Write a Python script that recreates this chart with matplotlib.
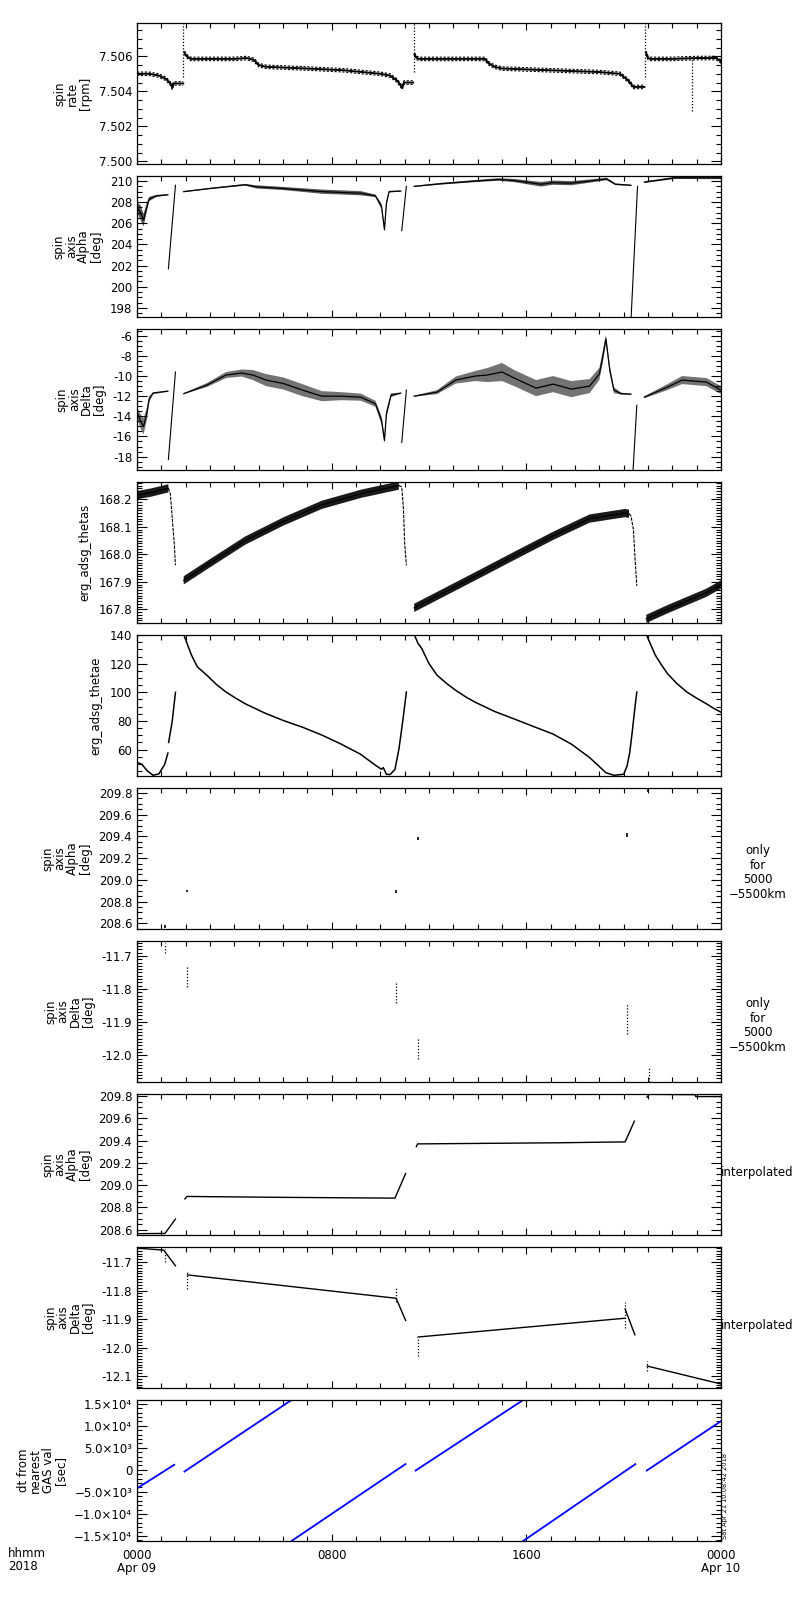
import numpy as np
import matplotlib
matplotlib.use('Agg')
import matplotlib.pyplot as plt
from matplotlib.ticker import MultipleLocator, FixedLocator, FormatStrFormatter

# hours since 2018-04-09 00:00 UT
rate_t = [[0.0, 0.5, 0.9, 1.2, 1.4, 1.45, 1.5, 1.9],
          [1.95, 2.05, 2.2, 3.0, 4.0, 4.5, 4.8, 5.0, 5.3, 7.0, 8.5, 10.0, 10.4, 10.7, 10.9, 10.97, 11.35],
          [11.4, 11.5, 11.6, 13.0, 14.3, 14.45, 14.7, 15.0, 17.0, 19.0, 19.85, 20.2, 20.4, 20.85],
          [20.92, 21.0, 21.1, 22.0, 23.0, 23.8, 24.0]]
rate_v = [[7.5050, 7.5050, 7.5049, 7.5047, 7.5044, 7.5042, 7.50445, 7.50445],
          [7.5062, 7.5060, 7.50585, 7.50585, 7.50585, 7.5059, 7.5058, 7.5055, 7.5054, 7.5053, 7.5052,
           7.5050, 7.5049, 7.5046, 7.5042, 7.5045, 7.5045],
          [7.5061, 7.5059, 7.50585, 7.50585, 7.50585, 7.5056, 7.5054, 7.5053, 7.5052, 7.5051, 7.5050,
           7.5046, 7.50425, 7.50425],
          [7.5062, 7.5059, 7.50585, 7.50585, 7.5059, 7.5059, 7.5057]]
rate_spike_t = [1.91, 11.37, 20.88, 22.8]
rate_spike_lo = [7.5048, 7.5051, 7.5048, 7.5029]
rate_spike_hi = [7.5079, 7.5079, 7.5079, 7.5059]

alpha_t = [[0.0, 0.15, 0.27, 0.4, 0.5, 0.8, 1.27],
           [1.92, 3.0, 4.45, 4.9, 6.0, 7.6, 9.2, 9.8, 10.05, 10.17, 10.25, 10.36, 10.84],
           [11.39, 12.5, 13.9, 14.86, 15.5, 16.6, 17.1, 17.85, 18.6, 19.3, 19.66, 20.3],
           [20.85, 22.1, 24.0]]
alpha_v = [[207.5, 207.0, 206.3, 207.5, 208.3, 208.6, 208.7],
           [209.0, 209.3, 209.65, 209.45, 209.3, 209.0, 208.85, 208.6, 207.6, 205.4, 207.9, 209.0, 209.05],
           [209.5, 209.75, 210.0, 210.15, 210.05, 209.7, 209.85, 209.8, 210.0, 210.2, 209.7, 209.6],
           [209.9, 210.3, 210.3]]
alpha_s = [[0.5, 0.7, 0.6, 0.4, 0.2, 0.1, 0.05],
           [0.05, 0.06, 0.08, 0.15, 0.15, 0.2, 0.2, 0.12, 0.25, 0.15, 0.25, 0.08, 0.05],
           [0.05, 0.08, 0.1, 0.12, 0.15, 0.22, 0.2, 0.2, 0.15, 0.12, 0.08, 0.05],
           [0.08, 0.1, 0.12]]
alpha_ramp_t = [[1.29, 1.58], [10.88, 11.07], [20.3, 20.57]]
alpha_ramp_v = [[201.7, 209.6], [205.3, 209.5], [196.8, 209.5]]

delta_t = [[0.0, 0.15, 0.27, 0.4, 0.5, 0.66, 1.27],
           [1.92, 2.87, 3.66, 4.3, 4.76, 5.3, 6.03, 6.8, 7.6, 8.4, 9.2, 9.8, 10.05, 10.17, 10.25, 10.44, 10.84],
           [11.39, 12.33, 13.1, 13.9, 14.4, 15.0, 15.5, 16.4, 17.1, 17.85, 18.6, 19.0, 19.15, 19.27, 19.43,
            19.6, 19.9, 20.3],
           [20.85, 21.8, 22.4, 23.4, 24.0]]
delta_v = [[-13.6, -14.5, -15.0, -13.8, -12.3, -11.7, -11.5],
           [-11.75, -10.9, -9.9, -9.7, -9.9, -10.4, -10.75, -11.4, -12.0, -12.0, -12.1, -12.75, -14.4, -16.4,
            -13.75, -11.9, -11.7],
           [-12.0, -11.6, -10.4, -10.0, -9.9, -9.6, -10.2, -11.2, -10.8, -11.3, -11.0, -9.8, -8.0, -6.3, -9.4,
            -11.4, -11.75, -11.8],
           [-12.1, -11.1, -10.4, -10.6, -11.4]]
delta_s = [[0.5, 0.7, 0.8, 0.6, 0.3, 0.1, 0.05],
           [0.05, 0.2, 0.3, 0.35, 0.5, 0.6, 0.6, 0.6, 0.5, 0.4, 0.35, 0.3, 0.4, 0.3, 0.4, 0.2, 0.05],
           [0.05, 0.2, 0.35, 0.5, 0.7, 0.9, 0.8, 0.8, 0.8, 0.8, 0.7, 0.6, 0.6, 0.4, 0.4, 0.3, 0.1, 0.05],
           [0.1, 0.3, 0.4, 0.4, 0.4]]
delta_ramp_t = [[1.29, 1.58], [10.88, 11.07], [20.38, 20.54]]
delta_ramp_v = [[-18.3, -9.6], [-16.6, -11.4], [-19.6, -12.9]]

thetas_t = [[0.0, 0.6, 1.29],
            [1.92, 2.87, 4.45, 6.03, 7.6, 9.2, 10.76],
            [11.39, 12.33, 13.9, 15.5, 17.1, 18.6, 20.06, 20.22],
            [20.93, 21.8, 23.4, 24.0]]
thetas_v = [[168.215, 168.225, 168.24],
            [167.905, 167.96, 168.05, 168.12, 168.18, 168.22, 168.25],
            [167.805, 167.848, 167.92, 167.994, 168.067, 168.13, 168.15, 168.147],
            [167.765, 167.80, 167.86, 167.89]]
thetas_drop_t = [[1.29, 1.37, 1.45, 1.53, 1.58],
                 [10.76, 10.88, 10.95, 11.0, 11.07],
                 [20.22, 20.3, 20.4, 20.47, 20.54]]
thetas_drop_v = [[168.24, 168.22, 168.13, 168.04, 167.96],
                 [168.25, 168.245, 168.165, 168.04, 167.96],
                 [168.147, 168.14, 168.09, 167.98, 167.885]]

thetae_t = [[0.0, 0.19, 0.43, 0.66, 0.9, 1.14, 1.27],
            [1.3, 1.45, 1.58],
            [1.92, 2.08, 2.24, 2.48, 2.87, 3.27, 3.66, 4.05, 4.45, 5.24, 6.03, 6.82, 7.6, 8.39, 9.18, 9.8,
             10.05, 10.12, 10.25, 10.4, 10.6, 10.76, 10.84, 10.95, 11.07],
            [11.39, 11.55, 11.7, 12.0, 12.33, 12.73, 13.1, 13.52, 13.9, 14.7, 15.5, 16.28, 17.1, 17.85, 18.6,
             19.27, 19.6, 20.0, 20.14, 20.25, 20.35, 20.44, 20.54],
            [20.93, 21.09, 21.3, 21.56, 21.8, 22.19, 22.6, 22.99, 23.4, 23.69, 24.0]]
thetae_v = [[51.0, 49.8, 45.0, 42.0, 43.0, 49.7, 57.5],
            [65.0, 80.0, 100.0],
            [140.5, 133.1, 126.0, 117.8, 112.0, 105.4, 100.2, 96.0, 92.0, 85.6, 80.2, 75.5, 70.1, 63.8, 56.8,
             49.0, 46.2, 47.4, 42.7, 42.5, 46.0, 60.0, 69.6, 83.7, 100.2],
            [140.5, 134.2, 130.7, 120.1, 112.0, 106.1, 101.4, 96.7, 93.1, 86.6, 81.4, 76.2, 70.8, 63.8, 54.4,
             43.8, 42.0, 42.7, 48.5, 58.0, 72.0, 86.0, 100.2],
            [140.5, 134.2, 126.0, 119.0, 113.1, 106.1, 100.2, 96.0, 92.0, 88.9, 86.1]]

# 5000-5500 km only
alpha_sel_t = [1.17, 2.05, 10.65, 11.53, 20.14, 21.0]
alpha_sel_lo = [208.555, 208.885, 208.88, 209.37, 209.39, 209.81]
alpha_sel_hi = [208.58, 208.91, 208.91, 209.39, 209.43, 209.845]
delta_sel_t = [1.17, 2.05, 10.65, 11.53, 20.14, 21.04]
delta_sel_lo = [-11.69, -11.795, -11.842, -12.013, -11.937, -12.081]
delta_sel_hi = [-11.66, -11.73, -11.777, -11.951, -11.844, -12.037]

# interpolated
alpha_int_t = [[0.0, 1.15, 1.58],
               [1.97, 2.05, 6.0, 10.6, 11.04],
               [11.48, 11.53, 17.3, 20.06, 20.44],
               [20.96, 21.05, 22.95, 22.96, 24.0]]
alpha_int_v = [[208.564, 208.566, 208.695],
               [208.876, 208.898, 208.89, 208.883, 209.104],
               [209.345, 209.37, 209.38, 209.388, 209.574],
               [209.79, 209.815, 209.812, 209.795, 209.795]]
delta_int_t = [[0.0, 1.1, 1.58],
               [2.08, 10.65, 11.04],
               [11.55, 20.06],
               [20.06, 20.46],
               [20.97, 24.0]]
delta_int_v = [[-11.651, -11.658, -11.713],
               [-11.745, -11.827, -11.905],
               [-11.963, -11.897],
               [-11.865, -11.955],
               [-12.065, -12.128]]
delta_int_dot_t = [1.17, 2.05, 10.65, 11.53, 20.06, 20.97]
delta_int_dot_lo = [-11.70, -11.796, -11.84, -12.029, -11.93, -12.081]
delta_int_dot_hi = [-11.655, -11.731, -11.79, -11.967, -11.84, -12.046]

dt_t = [[0.0, 1.53], [1.95, 6.35], [6.35, 11.03], [11.45, 15.87], [15.87, 20.48], [20.95, 24.0]]
dt_v = [[-4200, 1150], [-380, 15850], [-16140, 1300], [-150, 15850], [-16140, 1300], [-150, 11050]]


def join(segs):
    out = []
    for s in segs:
        out.extend(s)
        out.append(np.nan)
    return np.array(out[:-1], dtype=float)


plt.rcParams.update({
    'font.family': 'DejaVu Sans',
    'font.size': 8.5,
    'axes.linewidth': 0.9,
    'xtick.direction': 'in', 'ytick.direction': 'in',
    'xtick.top': True, 'ytick.right': True,
    'xtick.major.size': 5, 'xtick.minor.size': 3.5,
    'ytick.major.size': 7, 'ytick.minor.size': 3.8,
    'xtick.major.width': 0.8, 'xtick.minor.width': 0.8,
    'ytick.major.width': 0.8, 'ytick.minor.width': 0.8,
    'ytick.major.pad': 3.5, 'xtick.major.pad': 6,
})

fig = plt.figure(figsize=(8, 16), dpi=100)


def make_panel(i, ylim, major, minor, fmt, label):
    top = 23 + 153 * i
    ax = fig.add_axes([137 / 800, 1 - (top + 141) / 1600, 584 / 800, 141 / 1600])
    ax.set_xlim(0, 24)
    ax.xaxis.set_major_locator(MultipleLocator(8))
    ax.xaxis.set_minor_locator(MultipleLocator(1))
    ax.tick_params(axis='x', which='both', labelbottom=False)
    ax.set_ylim(*ylim)
    ax.yaxis.set_major_locator(MultipleLocator(major))
    ax.yaxis.set_minor_locator(MultipleLocator(minor))
    if fmt:
        ax.yaxis.set_major_formatter(FormatStrFormatter(fmt))
    ax.set_ylabel(label, linespacing=0.95, labelpad=5)
    return ax


def band(ax, t, v, s, lw=0.9, shade=0.35):
    t, v, s = join(t), join(v), join(s)
    ax.fill_between(t, v - s, v + s, color=str(shade), lw=0)
    ax.plot(t, v, color='k', lw=lw)


def right_note(ax, text, lines):
    if lines == 1:
        ax.text(1.0, 0.5 - 8 / 141, text, transform=ax.transAxes, ha='left', va='center')
    else:
        ax.text((758 - 137) / 584, 0.5 + 14 / 141, text, transform=ax.transAxes,
                ha='center', va='top', linespacing=1.15, multialignment='center')


# 1 spin rate
ax = make_panel(0, (7.49985, 7.5079), 0.002, 0.0005, '%.3f', 'spin\nrate\n[rpm]')
rt, rv = join(rate_t), join(rate_v)
ax.plot(rt, rv, color='k', lw=1.4)
ax.plot(rt, rv + 0.0001, color='k', lw=0.8, ls=(0, (2, 1.5)))
ax.plot(rt, rv - 0.0001, color='k', lw=0.8, ls=(0, (2, 1.5)))
ax.vlines(rate_spike_t, rate_spike_lo, rate_spike_hi, colors='k', lw=0.9, linestyles=(0, (1, 1.5)))

# 2 spin axis alpha
ax = make_panel(1, (197.14, 210.48), 2, 0.5, '%d', 'spin\naxis\nAlpha\n[deg]')
band(ax, alpha_t, alpha_v, alpha_s)
ax.plot(join(alpha_ramp_t), join(alpha_ramp_v), color='k', lw=0.8)

# 3 spin axis delta
ax = make_panel(2, (-19.33, -5.33), 2, 0.5, '%d', 'spin\naxis\nDelta\n[deg]')
band(ax, delta_t, delta_v, delta_s, shade=0.45)
ax.plot(join(delta_ramp_t), join(delta_ramp_v), color='k', lw=0.8)

# 4 thetas
ax = make_panel(3, (167.75, 168.263), 0.1, 0.01, '%.1f', 'erg_adsg_thetas')
th_s = [[0.015] * len(seg) for seg in thetas_t]
band(ax, thetas_t, thetas_v, th_s, shade=0.1)
ax.plot(join(thetas_drop_t), join(thetas_drop_v), color='k', lw=0.8, ls=(0, (3, 1)))

# 5 thetae
ax = make_panel(4, (41.5, 140.1), 20, 5, '%d', 'erg_adsg_thetae')
ax.plot(join(thetae_t), join(thetae_v), color='k', lw=1.1)

# 6 alpha 5000-5500 km
ax = make_panel(5, (208.547, 209.846), 0.2, 0.05, '%.1f', 'spin\naxis\nAlpha\n[deg]')
ax.vlines(alpha_sel_t, alpha_sel_lo, alpha_sel_hi, colors='k', lw=1.2)
right_note(ax, 'only\nfor\n5000\n\u22125500km', 4)

# 7 delta 5000-5500 km
ax = make_panel(6, (-12.081, -11.655), 0.1, 0.01, '%.1f', 'spin\naxis\nDelta\n[deg]')
ax.vlines(delta_sel_t, delta_sel_lo, delta_sel_hi, colors='k', lw=0.9, linestyles=(0, (1, 1.5)))
right_note(ax, 'only\nfor\n5000\n\u22125500km', 4)

# 8 alpha interpolated
ax = make_panel(7, (208.552, 209.818), 0.2, 0.05, '%.1f', 'spin\naxis\nAlpha\n[deg]')
ax.plot(join(alpha_int_t), join(alpha_int_v), color='k', lw=1.0)
right_note(ax, 'interpolated', 1)

# 9 delta interpolated
ax = make_panel(8, (-12.142, -11.647), 0.1, 0.01, '%.1f', 'spin\naxis\nDelta\n[deg]')
ax.plot(join(delta_int_t), join(delta_int_v), color='k', lw=1.0)
ax.vlines(delta_int_dot_t, delta_int_dot_lo, delta_int_dot_hi, colors='k', lw=0.9,
          linestyles=(0, (1, 1.5)))
right_note(ax, 'interpolated', 1)

# 10 dt from nearest GAS value
ax = make_panel(9, (-16140, 15850), 5000, 1000, None, 'dt from\nnearest\nGAS val\n[sec]')
ax.plot(join(dt_t), join(dt_v), color='#0000ff', lw=1.3)
dt_ticks = [-15000, -10000, -5000, 0, 5000, 10000, 15000]
dt_labels = ['\u22121.5\u00d710\u2074', '\u22121.0\u00d710\u2074', '\u22125.0\u00d710\u00b3', '0',
             '5.0\u00d710\u00b3', '1.0\u00d710\u2074', '1.5\u00d710\u2074']
ax.yaxis.set_major_locator(FixedLocator(dt_ticks))
ax.set_yticklabels(dt_labels)
ax.tick_params(axis='x', which='major', labelbottom=True)
ax.set_xticks([0, 8, 16, 24])
ax.set_xticklabels(['0000\nApr 09', '0800', '1600', '0000\nApr 10'], linespacing=1.0)

fig.text(8 / 800, 1 - 1547 / 1600, 'hhmm\n2018', ha='left', va='top', linespacing=1.0)
fig.text(722 / 800, 1 - 1539 / 1600, 'Sat Apr 21 10:08:42 2018', rotation=90,
         fontsize=4.8, ha='left', va='bottom')

fig.savefig('out.png', dpi=100)
